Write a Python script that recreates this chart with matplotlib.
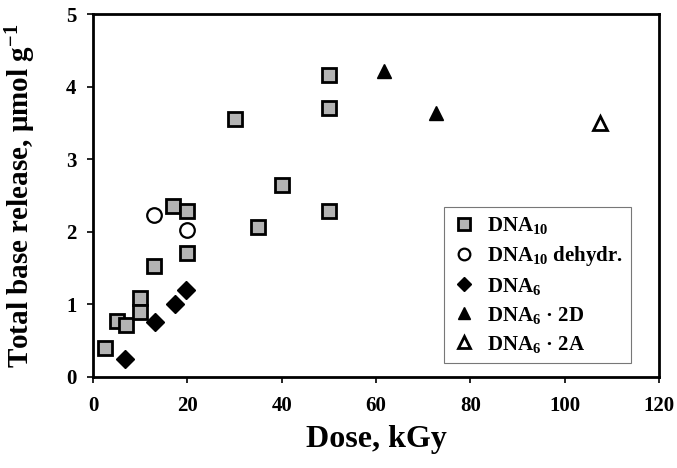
import matplotlib
matplotlib.use("Agg")
import matplotlib.pyplot as plt

plt.rcParams['font.family'] = ['Liberation Serif', 'DejaVu Serif']
plt.rcParams['font.weight'] = 'bold'
plt.rcParams['mathtext.fontset'] = 'custom'
plt.rcParams['mathtext.rm'] = 'Liberation Serif:bold'
plt.rcParams['mathtext.it'] = 'Liberation Serif:bold'
plt.rcParams['mathtext.bf'] = 'Liberation Serif:bold'

# Data
dna10_x = [2.5, 5, 7, 10, 10, 13, 17, 20, 20, 30, 35, 40, 50, 50, 50]
dna10_y = [0.40, 0.77, 0.72, 1.09, 0.89, 1.52, 2.36, 2.29, 1.71, 3.55, 2.06, 2.64, 4.16, 3.71, 2.29]
dehyd_x = [13, 20]
dehyd_y = [2.23, 2.02]
dna6_x = [6.7, 13.2, 17.4, 19.8]
dna6_y = [0.25, 0.75, 1.00, 1.20]
d2d_x = [61.7, 72.7]
d2d_y = [4.22, 3.64]
d2a_x = [107.5]
d2a_y = [3.50]

labels = [r'DNA$_{10}$', r'DNA$_{10}$ dehydr.', r'DNA$_{6}$', r'DNA$_{6}$ · 2D', r'DNA$_{6}$ · 2A']
xticks = [0, 20, 40, 60, 80, 100, 120]
yticks = [0, 1, 2, 3, 4, 5]

fig = plt.figure(figsize=(6.77, 4.68), dpi=100)
ax = fig.add_axes([0.1374, 0.195, 0.8360, 0.775])

ms = 10.5
ax.plot(dna10_x, dna10_y, ls='none', marker='s', ms=ms, mfc='#b3b3b3', mec='black', mew=2, label=labels[0])
ax.plot(dehyd_x, dehyd_y, ls='none', marker='o', ms=ms, mfc='white', mec='black', mew=1.6, label=labels[1])
ax.plot(dna6_x, dna6_y, ls='none', marker='D', ms=ms * 0.85, mfc='black', mec='black', mew=1, label=labels[2])
ax.plot(d2d_x, d2d_y, ls='none', marker='^', ms=ms, mfc='black', mec='black', mew=1, label=labels[3])
ax.plot(d2a_x, d2a_y, ls='none', marker='^', ms=ms, mfc='white', mec='black', mew=2, label=labels[4])

ax.set_xlim(0, 120)
ax.set_ylim(0, 5)
ax.set_xticks(xticks)
ax.set_yticks(yticks)
ax.tick_params(direction='out', length=4, width=1.2, labelsize=15)
ax.tick_params(axis='x', pad=10)
ax.tick_params(axis='y', pad=8)
for s in ax.spines.values():
    s.set_linewidth(2)
for lab in ax.get_xticklabels() + ax.get_yticklabels():
    lab.set_fontweight('bold')

ax.set_xlabel('Dose, kGy', fontsize=23, fontweight='bold', labelpad=6)
ax.set_ylabel(r'Total base release, μmol g$^{-1}$', fontsize=21, fontweight='bold', labelpad=20)

leg = ax.legend(loc='lower left', bbox_to_anchor=(0.62, 0.038), fontsize=15, frameon=True,
                fancybox=False, edgecolor='#777777', framealpha=1, handletextpad=0.55,
                borderpad=0.4, labelspacing=0.38, handlelength=1.1, markerscale=0.8,
                borderaxespad=0)
leg.get_frame().set_linewidth(0.8)

fig.savefig('out.png', dpi=100)
